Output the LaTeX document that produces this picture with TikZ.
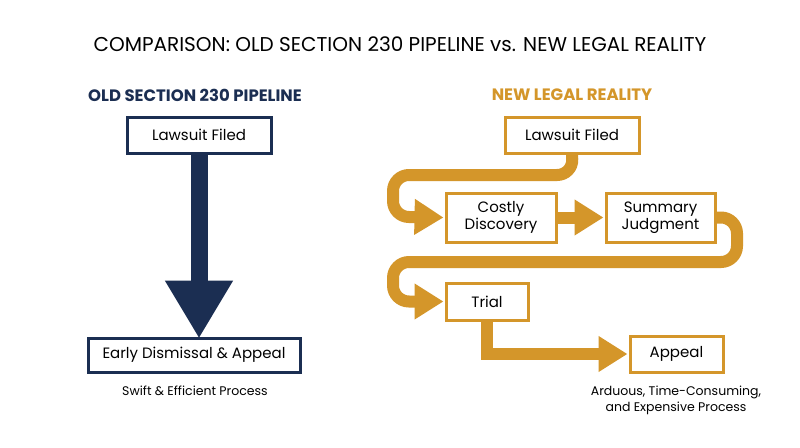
\documentclass[tikz,border=0pt]{standalone}
\usepackage{fontspec}
\setmainfont{Poppins}
\usetikzlibrary{arrows.meta}
\definecolor{navy}{HTML}{1B2E52}
\definecolor{gold}{HTML}{D4962A}
\begin{document}
\begin{tikzpicture}[x=1pt,y=-1pt,
  navybox/.style={draw=navy,line width=3pt,fill=white,inner sep=0pt,font=\fontsize{15}{17}\selectfont,align=center},
  goldbox/.style={draw=gold,line width=3pt,fill=white,inner sep=0pt,font=\fontsize{15}{17}\selectfont,align=center},
  pipe/.style={draw=gold,line width=12pt,rounded corners=16pt},
  gtip/.style={-{Triangle[length=29pt,width=34pt]}},
  lbl/.style={font=\fontsize{12.5}{16}\selectfont,align=center}]
\useasboundingbox[fill=white] (0,0) rectangle (800,447);
\node[font=\fontsize{20}{22}\selectfont] (title) at (400,44) {COMPARISON: OLD SECTION 230 PIPELINE vs. NEW LEGAL REALITY};
\node[font=\bfseries\fontsize{16.5}{18}\selectfont,text=navy] (lh) at (195,95) {OLD SECTION 230 PIPELINE};
\node[font=\bfseries\fontsize{16.5}{18}\selectfont,text=gold] (rh) at (572,95) {NEW LEGAL REALITY};
% left
\node[navybox,minimum width=144pt,minimum height=36pt] (l1) at (199,135) {Lawsuit Filed};
\node[navybox,minimum width=212pt,minimum height=34pt] (l2) at (194,355) {Early Dismissal \& Appeal};
\draw[navy,line width=17pt,-{Triangle[length=58pt,width=64pt]}] (l1.south) -- ([yshift=-2pt]l2.north -| l1.south);
\node[lbl] (ls) at (195,391) {Swift \& Efficient Process};
% right
\node[goldbox,minimum width=134pt,minimum height=36pt] (r1) at (572,135) {Lawsuit Filed};
\node[goldbox,minimum width=110pt,minimum height=49pt] (r2) at (501,217.5) {Costly\\Discovery};
\node[goldbox,minimum width=109pt,minimum height=49pt] (r3) at (660.5,217.5) {Summary\\Judgment};
\node[goldbox,minimum width=82pt,minimum height=37pt] (r4) at (487,301.5) {Trial};
\node[goldbox,minimum width=93pt,minimum height=36pt] (r5) at (676.5,354) {Appeal};
\coordinate (c1) at (393,175);
\coordinate (c3) at (737,262);
\draw[pipe] ([yshift=1pt]r1.south) -- (573,175) -- (c1) -- (393,217) -- (425,217);
\draw[gold,line width=12pt,gtip] (420,217) -- ([xshift=-1pt]r2.west);
\draw[gold,line width=12pt,gtip] (r2.east) -- ([xshift=-1pt]r3.west);
\draw[pipe] ([xshift=-1pt]r3.east) -- (c3 |- r3.east) -- (c3) -- (393,262) -- (393,301.5) -- (425,301.5);
\draw[gold,line width=12pt,gtip] (420,301.5) -- ([xshift=-1pt]r4.west);
\draw[gold,line width=12pt,gtip] (r4.south) -- (487,354) -- ([xshift=-1pt]r5.west);
\node[goldbox,minimum width=134pt,minimum height=36pt] at (r1) {Lawsuit Filed};
\node[goldbox,minimum width=110pt,minimum height=49pt] at (r2) {Costly\\Discovery};
\node[goldbox,minimum width=109pt,minimum height=49pt] at (r3) {Summary\\Judgment};
\node[goldbox,minimum width=82pt,minimum height=37pt] at (r4) {Trial};
\node[lbl] (rs) at (676,400) {Arduous, Time-Consuming,\\and Expensive Process};
\end{tikzpicture}
\end{document}
